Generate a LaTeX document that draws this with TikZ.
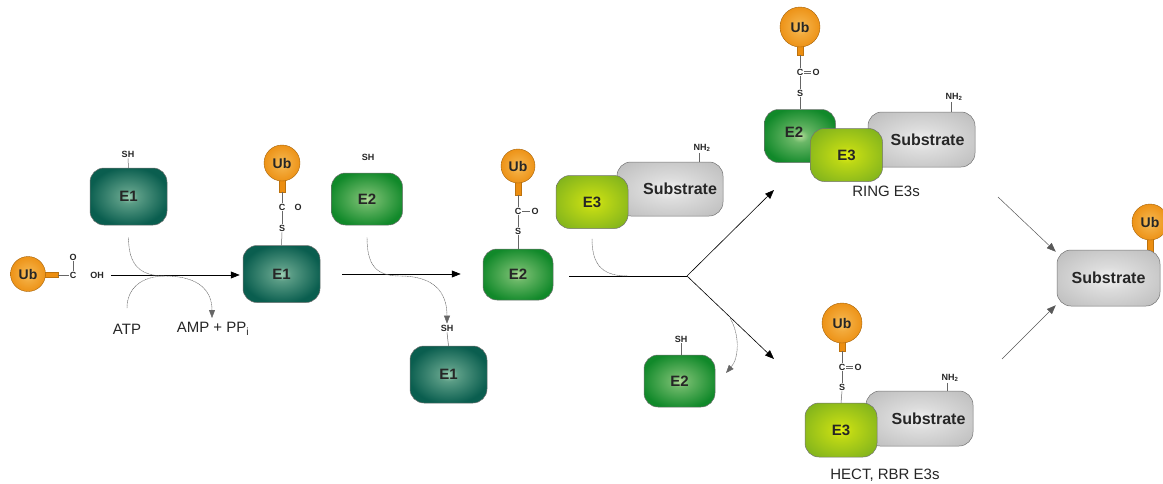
\documentclass[tikz,border=0pt]{standalone}
\usepackage{fontspec}
\setmainfont{Liberation Sans}
\usetikzlibrary{arrows.meta,calc}
\definecolor{eone}{HTML}{0A5E4F}
\definecolor{eonec}{HTML}{9CCFB2}
\definecolor{etwo}{HTML}{11892A}
\definecolor{etwoc}{HTML}{B5DE9A}
\definecolor{ethree}{HTML}{84B51C}
\definecolor{ethreec}{HTML}{E2EE10}
\definecolor{subs}{HTML}{BDBDBD}
\definecolor{subsc}{HTML}{F2F2F2}
\definecolor{ubo}{HTML}{EC8E10}
\definecolor{uboc}{HTML}{F9C565}
\pgfdeclareradialshading{eoneshade}{\pgfpoint{0bp}{0bp}}{color(0bp)=(eonec); color(6bp)=(eonec!55!eone); color(26bp)=(eone); color(100bp)=(eone)}
\pgfdeclareradialshading{etwoshade}{\pgfpoint{0bp}{0bp}}{color(0bp)=(etwoc); color(6bp)=(etwoc!55!etwo); color(27bp)=(etwo); color(100bp)=(etwo)}
\pgfdeclareradialshading{ethreeshade}{\pgfpoint{0bp}{0bp}}{color(0bp)=(ethreec); color(8bp)=(ethreec!60!ethree); color(30bp)=(ethree); color(100bp)=(ethree)}
\pgfdeclareradialshading{subshade}{\pgfpoint{0bp}{0bp}}{color(0bp)=(subsc); color(10bp)=(subsc!60!subs); color(34bp)=(subs); color(100bp)=(subs)}
\pgfdeclareradialshading{ubshade}{\pgfpoint{0bp}{0bp}}{color(0bp)=(uboc); color(10bp)=(uboc!50!ubo); color(28bp)=(ubo); color(100bp)=(ubo)}
\tikzset{
  x=1pt,y=-1pt,
  box/.style={rounded corners=14pt, draw=black!55, line width=0.5pt, font=\fontsize{15}{15}\selectfont\bfseries, text=black!85, inner sep=0pt},
  eonebox/.style={box, shading=eoneshade, minimum width=77pt, minimum height=57pt},
  etwobox/.style={box, shading=etwoshade, minimum width=71pt, minimum height=52pt},
  ethreebox/.style={box, shading=ethreeshade, minimum width=72pt, minimum height=53pt},
  subbox/.style={box, shading=subshade, minimum width=106pt, minimum height=54pt, font=\fontsize{16}{16}\selectfont\bfseries},
  ub/.style={circle, shading=ubshade, draw=ubo!70!black, line width=0.4pt, font=\fontsize{14}{14}\selectfont\bfseries, text=black!85, inner sep=0pt},
  stem/.style={fill=ubo, draw=ubo!80!black, line width=0.3pt},
  atom/.style={font=\fontsize{9}{9}\selectfont\bfseries, text=black!85, inner sep=1pt},
  bond/.style={draw=black!60, line width=0.5pt},
  arr/.style={draw=black, line width=0.6pt, -{Triangle[length=9pt,width=7pt]}},
  garr/.style={draw=black!65, line width=0.5pt, -{Triangle[length=9pt,width=7pt]}},
  curve/.style={draw=black!60, line width=0.45pt, dash pattern=on 1.2pt off 0.5pt},
  carr/.style={curve, -{Triangle[length=8pt,width=6pt]}},
  lbl/.style={font=\fontsize{15}{15}\selectfont, text=black!85, inner sep=0pt},
}
\begin{document}
\begin{tikzpicture}
\useasboundingbox (0,0) rectangle (1163,483);
\clip (0,0) rectangle (1163,483);
\fill[white] (0,0) rectangle (1163,483);

% ---------- free Ub ----------
\node[atom] (Ofree) at (73,257) {O};
\node[atom] (Cfree) at (73,275) {C};
\node[atom] (OH) at (97,275) {OH};
\draw[bond] (Cfree) -- (Ofree);
\draw[stem] (40,272.5) rectangle (58,277.5);
\node[ub, minimum size=35pt] (ub0) at (28,274) {Ub};
\draw[bond] (58,275) -- (Cfree.west);

% ---------- E1 (free) ----------
\node[eonebox] (E1a) at (128.5,196.5) {E1};
\node[atom] (SHa) at (128,154) {SH};
\draw[bond] (SHa.south) -- (E1a.north);

% ---------- E1~Ub ----------
\node[eonebox] (E1b) at (281.5,274) {E1};
\node[atom] (Cb) at (282,207) {C};
\node[atom] (Ob) at (298,207) {O};
\node[atom] (Sb) at (282,228) {S};
\draw[bond] (Sb.south) -- (E1b.north);
\draw[bond] (Cb.south) -- (Sb.north);
\draw[stem] (279,176) rectangle (285,192);
\node[ub, minimum size=36pt] (ub1) at (282,163) {Ub};
\draw[bond] (282,192) -- (Cb.north);

% ---------- E2 (free) ----------
\node[etwobox] (E2a) at (367,199) {E2};
\node[atom] (SHe2) at (368,157) {SH};

% ---------- E1 released ----------
\node[eonebox] (E1c) at (448.5,374.5) {E1};
\node[atom] (SHc) at (447,328) {SH};
\draw[bond] (SHc.south) -- (E1c.north);

% ---------- E2~Ub ----------
\node[etwobox, minimum width=70pt, minimum height=51pt] (E2b) at (518,274.5) {E2};
\node[atom] (Cc) at (518,211) {C};
\node[atom] (Oc) at (535,211) {O};
\node[atom] (Sc) at (518,231) {S};
\draw[bond] (Cc.east) -- (Oc.west);
\draw[bond] (Sc.south) -- (E2b.north);
\draw[bond] (Cc.south) -- (Sc.north);
\draw[stem] (515,178) rectangle (521,195);
\node[ub, minimum size=34pt] (ub2) at (518,166) {Ub};
\draw[bond] (518,195) -- (Cc.north);

% ---------- E3 + Substrate ----------
\node[subbox] (S1) at (670,189) {\hspace*{20pt}Substrate};
\node[atom] (NH1) at (702,148) {NH\textsubscript{2}};
\draw[bond] (NH1.south) ++(-3,0) coordinate (nh1b) -- (nh1b |- S1.north);
\node[ethreebox] (E3a) at (592,202) {E3};

% ---------- E2 released ----------
\node[etwobox] (E2c) at (679.5,381) {E2};
\node[atom] (SHd) at (681,339) {SH};
\draw[bond] (SHd.south) -- (SHd.south |- E2c.north);

% ---------- RING E3s ----------
\node[subbox, minimum width=107pt, minimum height=55pt] (S2) at (921.5,139.5) {\hspace*{12pt}Substrate};
\node[atom] (NH2) at (954,97) {NH\textsubscript{2}};
\draw[bond] (NH2.south) ++(-3,0) coordinate (nh2b) -- (nh2b |- S2.north);
\node[etwobox, minimum height=53pt] (E2r) at (800,136) {\raisebox{8pt}{E2}\hspace*{12pt}};
\node[ethreebox] (E3r) at (846.5,155) {E3};
\node[atom] (Cr) at (800,72) {C};
\node[atom] (Or) at (816,72) {O};
\node[atom] (Sr) at (800,93) {S};
\draw[bond] ([yshift=-1.2pt]Cr.east) -- ([yshift=-1.2pt]Or.west);
\draw[bond] ([yshift=1.2pt]Cr.east) -- ([yshift=1.2pt]Or.west);
\draw[bond] (Cr.south) -- (Sr.north);
\draw[bond] (Sr.south) -- (E2r.north);
\draw[stem] (797,43) rectangle (803,55);
\node[ub, minimum size=40pt] (ub3) at (800,27) {Ub};
\draw[bond] (800,55) -- (Cr.north);
\node[lbl] (ring) at (886,191) {RING E3s};

% ---------- HECT, RBR E3s ----------
\node[subbox, minimum width=107pt, minimum height=55pt] (S3) at (919.5,418.5) {\hspace*{18pt}Substrate};
\node[atom] (NH3) at (950,378) {NH\textsubscript{2}};
\draw[bond] (NH3.south) ++(-3,0) coordinate (nh3b) -- (nh3b |- S3.north);
\node[ethreebox, minimum height=54pt] (E3h) at (841,430) {E3};
\node[atom] (Ch) at (842,367) {C};
\node[atom] (Oh) at (858,367) {O};
\node[atom] (Sh) at (842,387) {S};
\draw[bond] ([yshift=-1.2pt]Ch.east) -- ([yshift=-1.2pt]Oh.west);
\draw[bond] ([yshift=1.2pt]Ch.east) -- ([yshift=1.2pt]Oh.west);
\draw[bond] (Ch.south) -- (Sh.north);
\draw[bond] (Sh.south) -- (E3h.north);
\draw[stem] (839,339) rectangle (845,351);
\node[ub, minimum size=40pt] (ub4) at (842,323) {Ub};
\draw[bond] (842,351) -- (Ch.north);
\node[lbl] (hect) at (885,475) {HECT, RBR E3s};

% ---------- final ubiquitinated substrate ----------
\draw[stem] (1147,236) rectangle (1153,252);
\node[subbox, minimum width=103pt, minimum height=56pt] (S4) at (1108.5,278) {Substrate};
\node[ub, minimum size=36pt] (ub5) at (1150,222) {Ub};

% ---------- texts ----------
\node[lbl] (atp) at (127,329) {ATP};
\node[lbl] (amp) at (213,329) {AMP + PP\textsubscript{i}};

% ---------- main arrows ----------
\draw[arr] ([xshift=6pt]OH.east) -- ([xshift=-3pt]E1b.west |- OH);
\draw[arr] ([xshift=22pt]E1b.east) -- ([xshift=-22pt]E2b.west |- E1b.east);
\coordinate (fork) at (687,276);
\coordinate (up) at (774,190);
\coordinate (down) at (774,359);
\draw[bond, draw=black, line width=0.6pt] ([xshift=16pt]E2b.east |- fork) -- (fork);
\draw[arr] (fork) -- (up);
\draw[arr] (fork) -- (down);
\coordinate (f1) at (998,197);
\coordinate (f2) at (1002,359);
\draw[garr] (f1) -- ([xshift=-1pt,yshift=-2pt]S4.north west);
\draw[garr] (f2) -- ([xshift=-1pt,yshift=1pt]S4.south west);

% ---------- side curves ----------
\coordinate (j1) at (165,276);
\coordinate (atptop) at (127,308);
\coordinate (ampend) at (212,318);
\draw[curve] ([yshift=-12pt]E1a.south) .. controls +(0,28) and (140,276) .. (j1);
\draw[carr] (j1) .. controls (198,276) and (212,290) .. (ampend);
\draw[curve] (atptop) .. controls (127,288) and (142,276) .. (j1);
\coordinate (j2) at (400,276);
\draw[curve] ([yshift=-12pt]E2a.south) .. controls +(0,28) and (376,276) .. (j2);
\draw[carr] (j2) .. controls (434,276) and (447,292) .. (SHc.north);
\coordinate (j3) at (628,276);
\draw[curve] ([yshift=-10pt]E3a.south) .. controls +(0,28) and (604,276) .. (j3);
\coordinate (j4) at (730,318);
\coordinate (e2end) at (726,373);
\draw[carr] (j4) .. controls (740,335) and (739,358) .. (e2end);
\end{tikzpicture}
\end{document}
